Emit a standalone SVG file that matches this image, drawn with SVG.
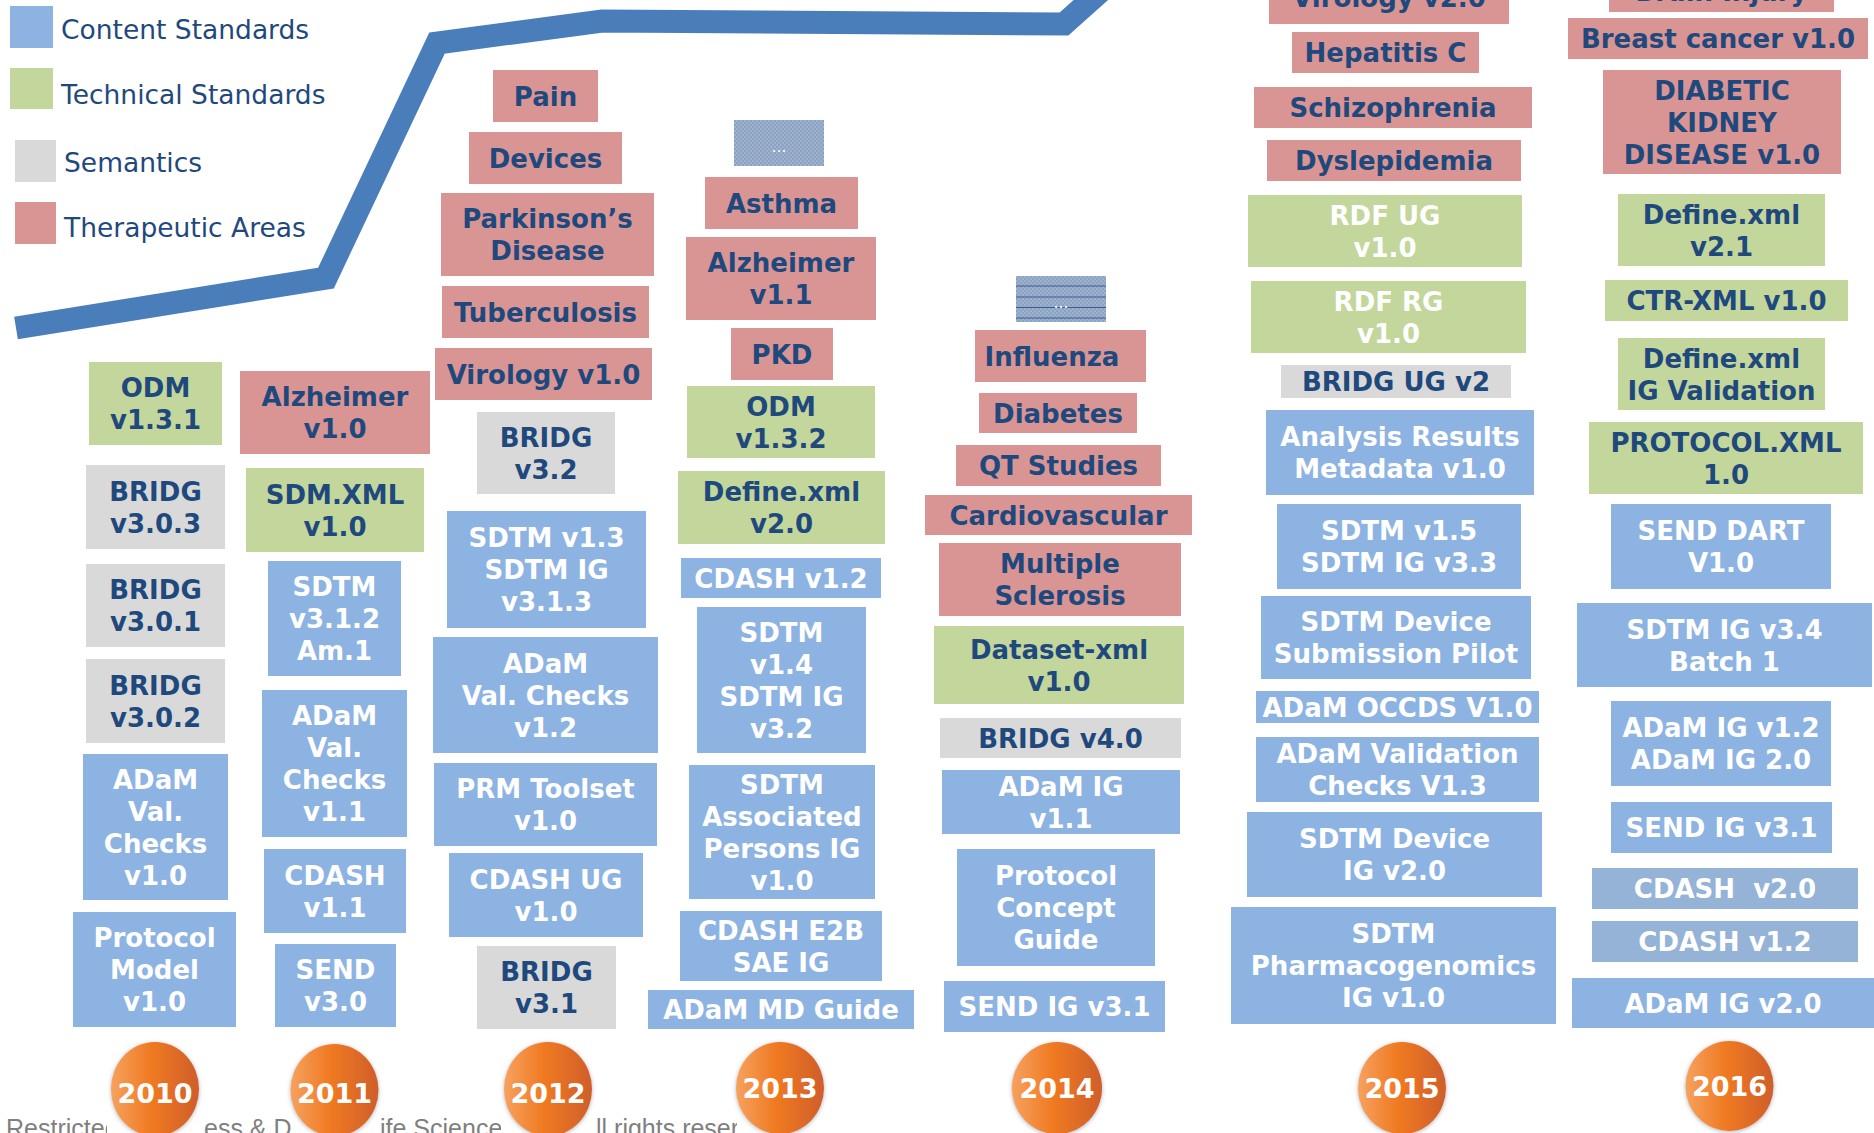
<svg xmlns="http://www.w3.org/2000/svg" width="1874" height="1133" viewBox="0 0 1874 1133">
<style>
.ta{fill:#D99594}
.tech{fill:#C3D69B}
.sem{fill:#D9D9D9}
.cs{fill:#8DB3E2}
.cs2{fill:#95B3D7}
.t{font-family:"DejaVu Sans",sans-serif;font-weight:bold;font-size:26px;text-anchor:middle;fill:#1F497D}
.w{fill:#FFFFFF}
.leg{font-family:"DejaVu Sans",sans-serif;font-size:26.5px;fill:#1F497D}
.yr{font-family:"DejaVu Sans",sans-serif;font-weight:bold;font-size:27px;text-anchor:middle;fill:#FFFFFF}
.foot{font-family:"Liberation Sans",Arial,sans-serif;font-size:25px;fill:#7F7F7F}
.dots{font-family:"DejaVu Sans",sans-serif;font-size:15px;text-anchor:middle;fill:#FFFFFF}
.ell{fill:url(#og);filter:url(#sh)}
</style>
<defs>
<linearGradient id="og" x1="0" y1="0" x2="1" y2="0">
<stop offset="0" stop-color="#F6A25E"/>
<stop offset="0.45" stop-color="#F07A22"/>
<stop offset="1" stop-color="#CF5E2A"/>
</linearGradient>
<filter id="sh" x="-20%" y="-20%" width="140%" height="140%">
<feGaussianBlur in="SourceAlpha" stdDeviation="2"/>
<feOffset dx="0" dy="1" result="b"/>
<feFlood flood-color="#808080" flood-opacity="0.6"/>
<feComposite in2="b" operator="in"/>
<feMerge><feMergeNode/><feMergeNode in="SourceGraphic"/></feMerge>
</filter>
<pattern id="dp" width="4" height="4" patternUnits="userSpaceOnUse">
<rect width="4" height="4" fill="#8CA2C2"/>
<rect width="2" height="2" fill="#9FB2CD"/>
<rect x="2" y="2" width="2" height="2" fill="#9FB2CD"/>
</pattern>
</defs>
<rect width="1874" height="1133" fill="#FFFFFF"/>

<g id="legend">
<rect x="10" y="6" width="43" height="42" class="cs"/>
<text x="61" y="39" class="leg">Content Standards</text>
<rect x="10" y="68" width="43" height="41" class="tech"/>
<text x="61" y="104" class="leg">Technical Standards</text>
<rect x="15" y="140" width="41" height="42" class="sem"/>
<text x="64" y="172" class="leg">Semantics</text>
<rect x="15" y="202" width="41" height="42" class="ta"/>
<text x="64" y="237" class="leg">Therapeutic Areas</text>
</g>

<g id="connectors">
<polyline id="trend-line" points="16,328 326,278 437,43 602,21 1064,24 1130,-35" fill="none" stroke="#4A7EBB" stroke-width="23" stroke-linejoin="miter" stroke-miterlimit="10"/>
</g>

<!-- 2010 -->
<g id="odm-131"><rect x="89" y="362" width="133" height="83" class="tech"/><text class="t" x="155.5" y="397">ODM</text><text class="t" x="155.5" y="429">v1.3.1</text></g>
<g id="bridg-303"><rect x="86" y="465" width="139" height="84" class="sem"/><text class="t" x="155.5" y="500.5">BRIDG</text><text class="t" x="155.5" y="532.5">v3.0.3</text></g>
<g id="bridg-301"><rect x="86" y="564" width="139" height="83" class="sem"/><text class="t" x="155.5" y="599">BRIDG</text><text class="t" x="155.5" y="631">v3.0.1</text></g>
<g id="bridg-302"><rect x="86" y="659" width="139" height="84" class="sem"/><text class="t" x="155.5" y="694.5">BRIDG</text><text class="t" x="155.5" y="726.5">v3.0.2</text></g>
<g id="adam-vc-10"><rect x="83" y="754" width="145" height="146" class="cs"/><text class="t w" x="155.5" y="788.5">ADaM</text><text class="t w" x="155.5" y="820.5">Val.</text><text class="t w" x="155.5" y="852.5">Checks</text><text class="t w" x="155.5" y="884.5">v1.0</text></g>
<g id="protocol-model"><rect x="73" y="912" width="163" height="115" class="cs"/><text class="t w" x="154.5" y="947">Protocol</text><text class="t w" x="154.5" y="979">Model</text><text class="t w" x="154.5" y="1011">v1.0</text></g>

<!-- 2011 -->
<g id="alzheimer-10"><rect x="240" y="371" width="190" height="83" class="ta"/><text class="t" x="335" y="406">Alzheimer</text><text class="t" x="335" y="438">v1.0</text></g>
<g id="sdm-xml"><rect x="246" y="468" width="178" height="84" class="tech"/><text class="t" x="335" y="503.5">SDM.XML</text><text class="t" x="335" y="535.5">v1.0</text></g>
<g id="sdtm-312"><rect x="268" y="561" width="133" height="115" class="cs"/><text class="t w" x="334.5" y="596">SDTM</text><text class="t w" x="334.5" y="628">v3.1.2</text><text class="t w" x="334.5" y="660">Am.1</text></g>
<g id="adam-vc-11"><rect x="262" y="690" width="145" height="147" class="cs"/><text class="t w" x="334.5" y="725">ADaM</text><text class="t w" x="334.5" y="757">Val.</text><text class="t w" x="334.5" y="789">Checks</text><text class="t w" x="334.5" y="821">v1.1</text></g>
<g id="cdash-11"><rect x="264" y="849" width="142" height="84" class="cs"/><text class="t w" x="335" y="884.5">CDASH</text><text class="t w" x="335" y="916.5">v1.1</text></g>
<g id="send-30"><rect x="275" y="944" width="121" height="83" class="cs"/><text class="t w" x="335.5" y="979">SEND</text><text class="t w" x="335.5" y="1011">v3.0</text></g>

<!-- 2012 -->
<g id="pain"><rect x="493" y="70" width="105" height="52" class="ta"/><text class="t" x="545.5" y="105.5">Pain</text></g>
<g id="devices"><rect x="469" y="132" width="153" height="52" class="ta"/><text class="t" x="545.5" y="167.5">Devices</text></g>
<g id="parkinsons"><rect x="441" y="193" width="213" height="83" class="ta"/><text class="t" x="547.5" y="228">Parkinson’s</text><text class="t" x="547.5" y="260">Disease</text></g>
<g id="tuberculosis"><rect x="442" y="286" width="207" height="52" class="ta"/><text class="t" x="545.5" y="321.5">Tuberculosis</text></g>
<g id="virology-10"><rect x="435" y="348" width="217" height="52" class="ta"/><text class="t" x="543.5" y="383.5">Virology v1.0</text></g>
<g id="bridg-32"><rect x="477" y="412" width="138" height="82" class="sem"/><text class="t" x="546" y="446.5">BRIDG</text><text class="t" x="546" y="478.5">v3.2</text></g>
<g id="sdtm-13"><rect x="447" y="511" width="199" height="117" class="cs"/><text class="t w" x="546.5" y="547">SDTM v1.3</text><text class="t w" x="546.5" y="579">SDTM IG</text><text class="t w" x="546.5" y="611">v3.1.3</text></g>
<g id="adam-vc-12"><rect x="433" y="637" width="225" height="116" class="cs"/><text class="t w" x="545.5" y="672.5">ADaM</text><text class="t w" x="545.5" y="704.5">Val. Checks</text><text class="t w" x="545.5" y="736.5">v1.2</text></g>
<g id="prm-toolset"><rect x="434" y="763" width="223" height="83" class="cs"/><text class="t w" x="545.5" y="798">PRM Toolset</text><text class="t w" x="545.5" y="830">v1.0</text></g>
<g id="cdash-ug"><rect x="449" y="853" width="194" height="84" class="cs"/><text class="t w" x="546" y="888.5">CDASH UG</text><text class="t w" x="546" y="920.5">v1.0</text></g>
<g id="bridg-31"><rect x="477" y="946" width="139" height="83" class="sem"/><text class="t" x="546.5" y="981">BRIDG</text><text class="t" x="546.5" y="1013">v3.1</text></g>

<!-- 2013 -->
<g id="more-2013"><rect x="734" y="120" width="90" height="46" fill="url(#dp)"/><text class="dots" x="779" y="152">…</text></g>
<g id="asthma"><rect x="705" y="177" width="153" height="52" class="ta"/><text class="t" x="781.5" y="212.5">Asthma</text></g>
<g id="alzheimer-11"><rect x="686" y="237" width="190" height="83" class="ta"/><text class="t" x="781" y="272">Alzheimer</text><text class="t" x="781" y="304">v1.1</text></g>
<g id="pkd"><rect x="731" y="328" width="102" height="52" class="ta"/><text class="t" x="782" y="363.5">PKD</text></g>
<g id="odm-132"><rect x="687" y="386" width="188" height="72" class="tech"/><text class="t" x="781" y="415.5">ODM</text><text class="t" x="781" y="447.5">v1.3.2</text></g>
<g id="define-20"><rect x="678" y="471" width="207" height="73" class="tech"/><text class="t" x="781.5" y="501">Define.xml</text><text class="t" x="781.5" y="533">v2.0</text></g>
<g id="cdash-12"><rect x="681" y="558" width="200" height="40" class="cs"/><text class="t w" x="781" y="587.5">CDASH v1.2</text></g>
<g id="sdtm-14"><rect x="697" y="607" width="169" height="146" class="cs"/><text class="t w" x="781.5" y="641.5">SDTM</text><text class="t w" x="781.5" y="673.5">v1.4</text><text class="t w" x="781.5" y="705.5">SDTM IG</text><text class="t w" x="781.5" y="737.5">v3.2</text></g>
<g id="sdtm-ap"><rect x="689" y="765" width="186" height="134" class="cs"/><text class="t w" x="782" y="793.5">SDTM</text><text class="t w" x="782" y="825.5">Associated</text><text class="t w" x="782" y="857.5">Persons IG</text><text class="t w" x="782" y="889.5">v1.0</text></g>
<g id="cdash-e2b"><rect x="680" y="911" width="202" height="70" class="cs"/><text class="t w" x="781" y="939.5">CDASH E2B</text><text class="t w" x="781" y="971.5">SAE IG</text></g>
<g id="adam-md"><rect x="648" y="990" width="266" height="39" class="cs"/><text class="t w" x="781" y="1019">ADaM MD Guide</text></g>

<!-- 2014 -->
<g id="more-2014"><rect x="1016" y="276" width="90" height="46" fill="url(#dp)"/><g stroke="#3D5E91" stroke-width="1.2"><line x1="1016" y1="286" x2="1106" y2="286"/><line x1="1016" y1="297" x2="1106" y2="297"/><line x1="1016" y1="307.5" x2="1106" y2="307.5"/><line x1="1016" y1="318" x2="1106" y2="318"/></g><text class="dots" x="1061" y="308">…</text></g>
<g id="influenza"><rect x="975" y="330" width="171" height="52" class="ta"/><text class="t" x="1052" y="365.5">Influenza</text></g>
<g id="diabetes"><rect x="979" y="393" width="158" height="40" class="ta"/><text class="t" x="1058" y="422.5">Diabetes</text></g>
<g id="qt-studies"><rect x="956" y="445" width="205" height="41" class="ta"/><text class="t" x="1058.5" y="475">QT Studies</text></g>
<g id="cardiovascular"><rect x="925" y="495" width="267" height="40" class="ta"/><text class="t" x="1058.5" y="524.5">Cardiovascular</text></g>
<g id="ms"><rect x="939" y="543" width="242" height="73" class="ta"/><text class="t" x="1060" y="573">Multiple</text><text class="t" x="1060" y="605">Sclerosis</text></g>
<g id="dataset-xml"><rect x="934" y="626" width="250" height="78" class="tech"/><text class="t" x="1059" y="658.5">Dataset-xml</text><text class="t" x="1059" y="690.5">v1.0</text></g>
<g id="bridg-40"><rect x="940" y="718" width="241" height="40" class="sem"/><text class="t" x="1060.5" y="747.5">BRIDG v4.0</text></g>
<g id="adam-ig-11"><rect x="942" y="770" width="238" height="64" class="cs"/><text class="t w" x="1061" y="795.5">ADaM IG</text><text class="t w" x="1061" y="827.5">v1.1</text></g>
<g id="pcg"><rect x="957" y="849" width="198" height="117" class="cs"/><text class="t w" x="1056" y="885">Protocol</text><text class="t w" x="1056" y="917">Concept</text><text class="t w" x="1056" y="949">Guide</text></g>
<g id="send-ig-31-2014"><rect x="944" y="981" width="221" height="51" class="cs"/><text class="t w" x="1054.5" y="1016">SEND IG v3.1</text></g>

<!-- 2015 -->
<g id="virology-20"><rect x="1269" y="-30" width="240" height="54" class="ta"/><text class="t" x="1389" y="7">Virology v2.0</text></g>
<g id="hepatitis-c"><rect x="1292" y="32" width="187" height="41" class="ta"/><text class="t" x="1385.5" y="62">Hepatitis C</text></g>
<g id="schizophrenia"><rect x="1254" y="87" width="278" height="41" class="ta"/><text class="t" x="1393" y="117">Schizophrenia</text></g>
<g id="dyslepidemia"><rect x="1267" y="140" width="254" height="41" class="ta"/><text class="t" x="1394" y="170">Dyslepidemia</text></g>
<g id="rdf-ug"><rect x="1248" y="195" width="274" height="72" class="tech"/><text class="t w" x="1385" y="224.5">RDF UG</text><text class="t w" x="1385" y="256.5">v1.0</text></g>
<g id="rdf-rg"><rect x="1251" y="281" width="275" height="72" class="tech"/><text class="t w" x="1388.5" y="310.5">RDF RG</text><text class="t w" x="1388.5" y="342.5">v1.0</text></g>
<g id="bridg-ug"><rect x="1281" y="365" width="230" height="33" class="sem"/><text class="t" x="1396" y="391">BRIDG UG v2</text></g>
<g id="arm"><rect x="1266" y="410" width="268" height="85" class="cs"/><text class="t w" x="1400" y="446">Analysis Results</text><text class="t w" x="1400" y="478">Metadata v1.0</text></g>
<g id="sdtm-15"><rect x="1277" y="504" width="244" height="85" class="cs"/><text class="t w" x="1399" y="540">SDTM v1.5</text><text class="t w" x="1399" y="572">SDTM IG v3.3</text></g>
<g id="sdtm-dsp"><rect x="1261" y="596" width="270" height="83" class="cs"/><text class="t w" x="1396" y="631">SDTM Device</text><text class="t w" x="1396" y="663">Submission Pilot</text></g>
<g id="adam-occds"><rect x="1256" y="691" width="283" height="32" class="cs"/><text class="t w" x="1397.5" y="716.5">ADaM OCCDS V1.0</text></g>
<g id="adam-vc-13"><rect x="1256" y="737" width="283" height="65" class="cs"/><text class="t w" x="1397.5" y="763">ADaM Validation</text><text class="t w" x="1397.5" y="795">Checks V1.3</text></g>
<g id="sdtm-dig"><rect x="1247" y="812" width="295" height="85" class="cs"/><text class="t w" x="1394.5" y="848">SDTM Device</text><text class="t w" x="1394.5" y="880">IG v2.0</text></g>
<g id="sdtm-pgx"><rect x="1231" y="907" width="325" height="117" class="cs"/><text class="t w" x="1393.5" y="943">SDTM</text><text class="t w" x="1393.5" y="975">Pharmacogenomics</text><text class="t w" x="1393.5" y="1007">IG v1.0</text></g>

<!-- 2016 -->
<g id="brain-injury"><rect x="1609" y="-40" width="225" height="52" class="ta"/><text class="t" x="1721.5" y="1">Brain Injury</text></g>
<g id="breast-cancer"><rect x="1568" y="18" width="300" height="41" class="ta"/><text class="t" x="1718" y="48">Breast cancer v1.0</text></g>
<g id="dkd"><rect x="1603" y="70" width="238" height="104" class="ta"/><text class="t" x="1722" y="99.5">DIABETIC</text><text class="t" x="1722" y="131.5">KIDNEY</text><text class="t" x="1722" y="163.5">DISEASE v1.0</text></g>
<g id="define-21"><rect x="1618" y="194" width="207" height="72" class="tech"/><text class="t" x="1721.5" y="223.5">Define.xml</text><text class="t" x="1721.5" y="255.5">v2.1</text></g>
<g id="ctr-xml"><rect x="1605" y="280" width="243" height="41" class="tech"/><text class="t" x="1726.5" y="310">CTR-XML v1.0</text></g>
<g id="define-igv"><rect x="1618" y="338" width="207" height="72" class="tech"/><text class="t" x="1721.5" y="367.5">Define.xml</text><text class="t" x="1721.5" y="399.5">IG Validation</text></g>
<g id="protocol-xml"><rect x="1589" y="422" width="274" height="72" class="tech"/><text class="t" x="1726" y="451.5">PROTOCOL.XML</text><text class="t" x="1726" y="483.5">1.0</text></g>
<g id="send-dart"><rect x="1611" y="504" width="220" height="85" class="cs"/><text class="t w" x="1721" y="540">SEND DART</text><text class="t w" x="1721" y="572">V1.0</text></g>
<g id="sdtm-ig-34"><rect x="1577" y="603" width="295" height="84" class="cs"/><text class="t w" x="1724.5" y="638.5">SDTM IG v3.4</text><text class="t w" x="1724.5" y="670.5">Batch 1</text></g>
<g id="adam-ig-12"><rect x="1611" y="701" width="220" height="85" class="cs"/><text class="t w" x="1721" y="737">ADaM IG v1.2</text><text class="t w" x="1721" y="769">ADaM IG 2.0</text></g>
<g id="send-ig-31-2016"><rect x="1611" y="802" width="221" height="51" class="cs"/><text class="t w" x="1721.5" y="837">SEND IG v3.1</text></g>
<g id="cdash-20"><rect x="1592" y="868" width="266" height="41" class="cs2"/><text class="t w" x="1725" y="898">CDASH&#160; v2.0</text></g>
<g id="cdash-12-2016"><rect x="1592" y="921" width="266" height="41" class="cs2"/><text class="t w" x="1725" y="951">CDASH v1.2</text></g>
<g id="adam-ig-20"><rect x="1572" y="978" width="302" height="50" class="cs"/><text class="t w" x="1723" y="1012.5">ADaM IG v2.0</text></g>

<g id="footer">
<text class="foot" x="6" y="1137">Restricted</text>
<text class="foot" x="204" y="1137">ess &amp; D</text>
<text class="foot" x="380" y="1137">ife Science</text>
<text class="foot" x="596" y="1137">ll rights reser</text>
</g>

<g id="year-2010"><rect x="107" y="1036" width="96" height="97" fill="#FFFFFF"/><ellipse cx="155" cy="1089" rx="44" ry="47" class="ell"/><text class="yr" x="155" y="1103">2010</text></g>
<g id="year-2011"><rect x="291" y="1036" width="89" height="97" fill="#FFFFFF"/><ellipse cx="334.5" cy="1090" rx="44" ry="46" class="ell"/><text class="yr" x="334.5" y="1103">2011</text></g>
<g id="year-2012"><rect x="501" y="1036" width="94" height="97" fill="#FFFFFF"/><ellipse cx="548" cy="1089" rx="44" ry="47" class="ell"/><text class="yr" x="548" y="1103">2012</text></g>
<g id="year-2013"><rect x="737" y="1036" width="88" height="97" fill="#FFFFFF"/><ellipse cx="780" cy="1088" rx="44" ry="46" class="ell"/><text class="yr" x="780" y="1098">2013</text></g>
<g id="year-2014"><ellipse cx="1057" cy="1088" rx="45" ry="46" class="ell"/><text class="yr" x="1057" y="1098">2014</text></g>
<g id="year-2015"><ellipse cx="1402" cy="1088" rx="44" ry="46" class="ell"/><text class="yr" x="1402" y="1098">2015</text></g>
<g id="year-2016"><ellipse cx="1729.5" cy="1086" rx="44" ry="45" class="ell"/><text class="yr" x="1729.5" y="1096">2016</text></g>
</svg>
